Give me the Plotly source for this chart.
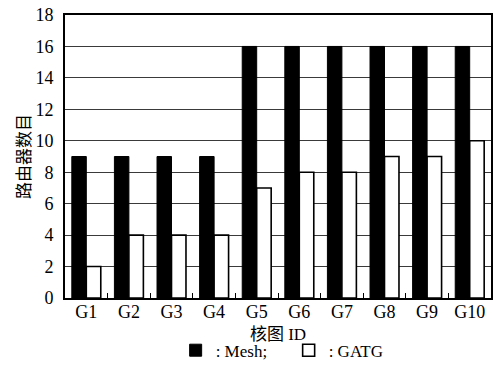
import plotly.graph_objects as go

categories = ["G1", "G2", "G3", "G4", "G5", "G6", "G7", "G8", "G9", "G10"]
mesh_values = [9, 9, 9, 9, 16, 16, 16, 16, 16, 16]
gatg_values = [2, 4, 4, 4, 7, 8, 8, 9, 9, 10]
y_ticks = [0, 2, 4, 6, 8, 10, 12, 14, 16, 18]

LATIN = "Liberation Serif"
MIXED = "Liberation Serif, Noto Sans CJK SC"
CJK = "Noto Sans CJK SC"

fig = go.Figure()
fig.add_trace(go.Bar(
    x=categories, y=mesh_values, name=": Mesh;",
    marker=dict(color="black", line=dict(color="black", width=1)),
))
fig.add_trace(go.Bar(
    x=categories, y=gatg_values, name=": GATG",
    marker=dict(color="white", line=dict(color="black", width=1.6)),
))

fig.update_layout(
    width=493, height=367,
    margin=dict(l=65, r=2, t=15, b=69, autoexpand=False),
    paper_bgcolor="white", plot_bgcolor="white",
    font=dict(family=LATIN, size=18, color="black"),
    barmode="group", bargap=0.32, bargroupgap=0,
    showlegend=True,
    legend=dict(
        orientation="h", x=0.525, xanchor="center", y=-0.186, yanchor="middle",
        font=dict(family=LATIN, size=17, color="black"),
        itemwidth=30, tracegroupgap=0,
        entrywidth=68, entrywidthmode="pixels",
        bgcolor="rgba(0,0,0,0)",
    ),
)

fig.update_xaxes(
    automargin=False,
    showline=True, linecolor="black", linewidth=2, mirror=True,
    ticks="inside", ticklen=5, tickwidth=1, tickcolor="black",
    tickson="boundaries", showgrid=False,
    ticklabelstandoff=-4,
    tickfont=dict(family=LATIN, size=18),
    title=dict(text="核图 ID", font=dict(family=MIXED, size=17), standoff=8),
)
fig.update_yaxes(
    automargin=False,
    range=[0, 18], tickvals=y_ticks, ticktext=[str(v) for v in y_ticks],
    showline=True, linecolor="black", linewidth=2, mirror=True,
    showgrid=True, gridcolor="#3a3a3a", gridwidth=1.4,
    ticks="", ticklabelstandoff=6, zeroline=False,
    tickfont=dict(family=LATIN, size=18),
    title=dict(text="路由器数目", font=dict(family=CJK, size=17), standoff=0),
)

fig.write_html("out.html", post_script="document.body.style.margin='0';",
               config={"displayModeBar": False})
